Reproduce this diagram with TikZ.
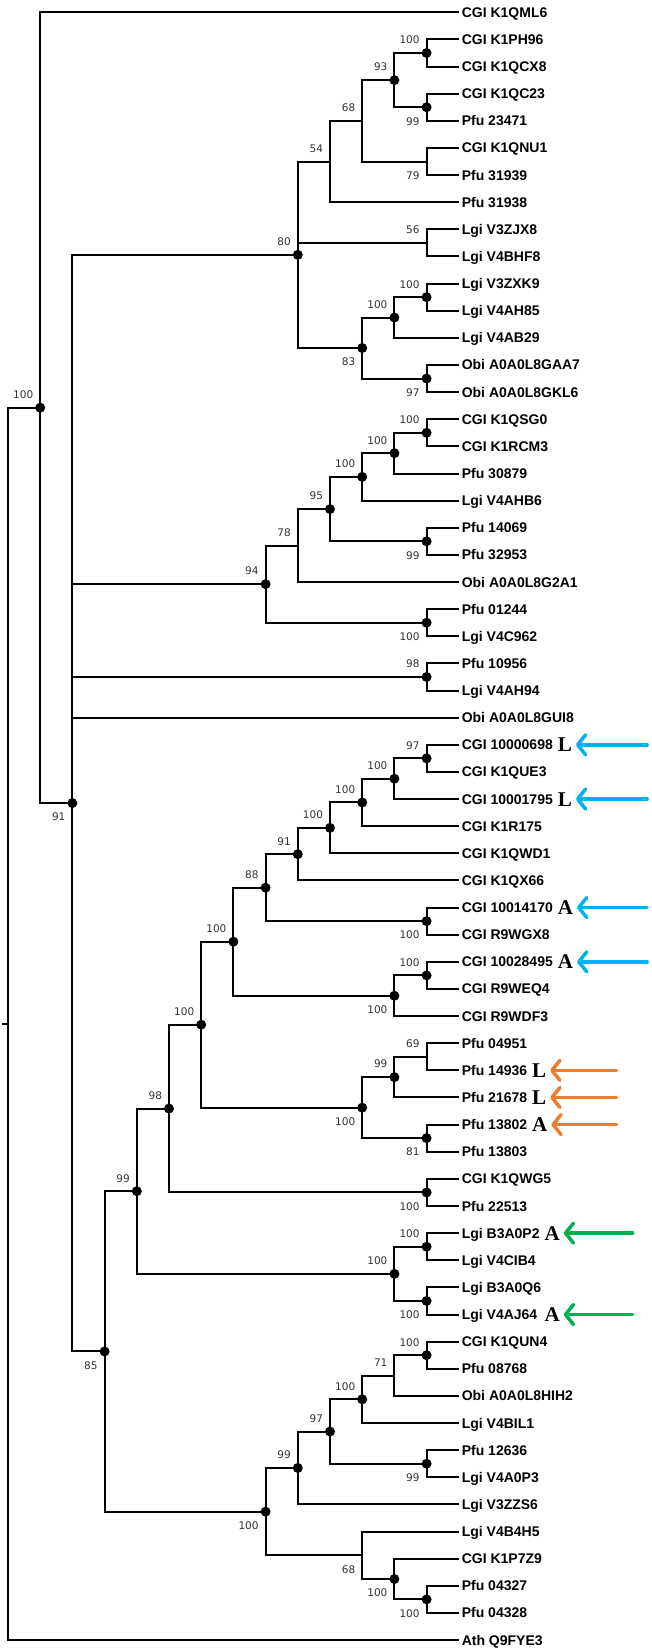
\documentclass[tikz,border=0pt]{standalone}
\usepackage{fontspec}
\setmainfont{Liberation Sans}
\newfontfamily\bootfont{DejaVu Sans}
\newfontfamily\motiffont{Liberation Serif}
\usetikzlibrary{positioning,arrows.meta}
\definecolor{arrblue}{HTML}{00B0F0}
\definecolor{arrorange}{HTML}{ED7D31}
\definecolor{arrgreen}{HTML}{00B050}

\begin{document}
\begin{tikzpicture}[x=32.2pt,y=-27.13pt,line width=2pt,
    taxon/.style={anchor=west,inner sep=2pt,font=\fontsize{14}{16}\selectfont\bfseries,text height=10pt,text depth=0pt},
    bootup/.style={anchor=south east,inner sep=0pt,xshift=-6pt,yshift=8pt,font=\bootfont\fontsize{10.5}{12}\selectfont,text=black!80},
    bootdown/.style={anchor=north east,inner sep=0pt,xshift=-6pt,yshift=-9pt,font=\bootfont\fontsize{10.5}{12}\selectfont,text=black!80},
    nodedot/.style={circle,fill,inner sep=0pt,minimum size=10pt},
    motif/.style={inner sep=1pt,font=\motiffont\fontsize{21}{22}\selectfont\bfseries,text height=14pt,text depth=0pt},
    tagarrow/.style={line width=3.5pt,line cap=round,shorten >=2pt,-{Straight Barb[length=8pt,width=20pt,round]}}]
\useasboundingbox (-0.2484,0.5466) rectangle (20.0,61.44);

\foreach \i/\name in {1/CGI K1QML6,2/CGI K1PH96,3/CGI K1QCX8,4/CGI K1QC23,5/Pfu 23471,
    6/CGI K1QNU1,7/Pfu 31939,8/Pfu 31938,9/Lgi V3ZJX8,10/Lgi V4BHF8,11/Lgi V3ZXK9,
    12/Lgi V4AH85,13/Lgi V4AB29,14/Obi A0A0L8GAA7,15/Obi A0A0L8GKL6,16/CGI K1QSG0,
    17/CGI K1RCM3,18/Pfu 30879,19/Lgi V4AHB6,20/Pfu 14069,21/Pfu 32953,22/Obi A0A0L8G2A1,
    23/Pfu 01244,24/Lgi V4C962,25/Pfu 10956,26/Lgi V4AH94,27/Obi A0A0L8GUI8,28/CGI 10000698,
    29/CGI K1QUE3,30/CGI 10001795,31/CGI K1R175,32/CGI K1QWD1,33/CGI K1QX66,34/CGI 10014170,
    35/CGI R9WGX8,36/CGI 10028495,37/CGI R9WEQ4,38/CGI R9WDF3,39/Pfu 04951,40/Pfu 14936,
    41/Pfu 21678,42/Pfu 13802,43/Pfu 13803,44/CGI K1QWG5,45/Pfu 22513,46/Lgi B3A0P2,
    47/Lgi V4CIB4,48/Lgi B3A0Q6,49/Lgi V4AJ64,50/CGI K1QUN4,51/Pfu 08768,52/Obi A0A0L8HIH2,
    53/Lgi V4BIL1,54/Pfu 12636,55/Lgi V4A0P3,56/Lgi V3ZZS6,57/Lgi V4B4H5,58/CGI K1P7Z9,
    59/Pfu 04327,60/Pfu 04328,61/Ath Q9FYE3}
  \node[taxon] (l\i) at (14,\i) {\name};

\foreach \n/\c/\y in {b100a/13/2.5,b99a/13/4.5,b93/12/3.5,b79/13/6.5,b68/11/5,b54/10/6.5,
    b56/13/9.5,b100b/13/11.5,b100c/12/12.25,b97a/13/14.5,b83/11/13.375,b80/9/9.9375,
    b100d/13/16.5,b100e/12/17.25,b100f/11/18.125,b99b/13/20.5,b95/10/19.3125,b78/9/20.65625,
    b100g/13/23.5,b94/8/22.078,b98a/13/25.5,
    b97b/13/28.5,b100i/12/29.25,b100j/11/30.125,b100k/10/31.0625,b91b/9/32.03125,b100l/13/34.5,
    b88/8/33.2656,b100m/13/36.5,b100n/12/37.25,b100o/7/35.2578,b69/13/39.5,b99d/12/40.25,
    b81/13/42.5,b100p/11/41.375,b100q/6/38.3164,b100r/13/44.5,b98b/5/41.4082,b100s/13/46.5,
    b100t/13/48.5,b100u/12/47.5,b99e/4/44.4541,
    b100v/13/50.5,b71/12/51.25,b100w/11/52.125,b99f/13/54.5,b97c/10/53.3125,b99g/9/54.6563,
    b100x/13/59.5,b100y/12/58.75,b68b/11/57.875,b100z/8/56.2656,b85/3/50.3598,
    b91a/2/30.149,b100root/1/15.574,root/0/38.287}
  \coordinate (\n) at (\c,\y);
\coordinate (stub) at (-0.19,38.287);

\foreach \p/\c in {b100a/l2,b100a/l3,b99a/l4,b99a/l5,b93/b100a,b93/b99a,b79/l6,b79/l7,
    b68/b93,b68/b79,b54/b68,b54/l8,b56/l9,b56/l10,b100b/l11,b100b/l12,b100c/b100b,b100c/l13,
    b97a/l14,b97a/l15,b83/b100c,b83/b97a,b80/b54,b80/b56,b80/b83,
    b100d/l16,b100d/l17,b100e/b100d,b100e/l18,b100f/b100e,b100f/l19,b99b/l20,b99b/l21,
    b95/b100f,b95/b99b,b78/b95,b78/l22,b100g/l23,b100g/l24,b94/b78,b94/b100g,b98a/l25,b98a/l26,
    b97b/l28,b97b/l29,b100i/b97b,b100i/l30,b100j/b100i,b100j/l31,b100k/b100j,b100k/l32,
    b91b/b100k,b91b/l33,b100l/l34,b100l/l35,b88/b91b,b88/b100l,b100m/l36,b100m/l37,
    b100n/b100m,b100n/l38,b100o/b88,b100o/b100n,b69/l39,b69/l40,b99d/b69,b99d/l41,
    b81/l42,b81/l43,b100p/b99d,b100p/b81,b100q/b100o,b100q/b100p,b100r/l44,b100r/l45,
    b98b/b100q,b98b/b100r,b100s/l46,b100s/l47,b100t/l48,b100t/l49,b100u/b100s,b100u/b100t,
    b99e/b98b,b99e/b100u,
    b100v/l50,b100v/l51,b71/b100v,b71/l52,b100w/b71,b100w/l53,b99f/l54,b99f/l55,
    b97c/b100w,b97c/b99f,b99g/b97c,b99g/l56,b100x/l59,b100x/l60,b100y/l58,b100y/b100x,
    b68b/l57,b68b/b100y,b100z/b99g,b100z/b68b,b85/b99e,b85/b100z,
    b91a/b80,b91a/b94,b91a/b98a,b91a/l27,b91a/b85,b100root/l1,b100root/b91a,
    root/b100root,root/l61}
  \draw (\p) |- (\c);
\draw (stub) -- (root);

\foreach \n in {b100a,b99a,b93,b100b,b100c,b97a,b83,b80,b100d,b100e,b100f,b99b,b95,
    b100g,b94,b98a,b97b,b100i,b100j,b100k,b91b,b100l,b88,b100m,b100n,b100o,b99d,b81,
    b100p,b100q,b100r,b98b,b100s,b100t,b100u,b99e,b100v,b100w,b99f,b97c,b99g,b100x,
    b100y,b100z,b85,b91a,b100root}
  \node[nodedot] at (\n) {};

\foreach \n/\v in {b100a/100,b93/93,b68/68,b54/54,b56/56,b100b/100,b100c/100,b80/80,
    b100d/100,b100e/100,b100f/100,b95/95,b78/78,b94/94,b98a/98,b97b/97,b100i/100,b100j/100,
    b100k/100,b91b/91,b88/88,b100m/100,b100o/100,b69/69,b99d/99,b100q/100,b98b/98,
    b100s/100,b100u/100,b99e/99,b100v/100,b71/71,b100w/100,b97c/97,b99g/99,b100root/100}
  \node[bootup] at (\n) {\v};
\foreach \n/\v in {b99a/99,b79/79,b97a/97,b83/83,b99b/99,b100g/100,b100l/100,b100n/100,
    b81/81,b100p/100,b100r/100,b100t/100,b99f/99,b100x/100,b100y/100,b68b/68,b100z/100,
    b85/85,b91a/91}
  \node[bootdown] at (\n) {\v};

\node[motif,right=0pt of l28] (m28) {L};
\node[motif,right=0pt of l30] (m30) {L};
\node[motif,right=0pt of l34] (m34) {A};
\node[motif,right=0pt of l36] (m36) {A};
\node[motif,right=0pt of l40] (m40) {L};
\node[motif,right=0pt of l41] (m41) {L};
\node[motif,right=0pt of l42] (m42) {A};
\node[motif,right=0pt of l46] (m46) {A};
\node[motif] (m49) at (m46 |- l49) {A};

\foreach \i/\x/\c in {28/19.85/arrblue,30/19.85/arrblue,34/19.85/arrblue,36/19.85/arrblue,
    40/18.9/arrorange,41/18.9/arrorange,42/18.9/arrorange,46/19.4/arrgreen,49/19.4/arrgreen}
  {\coordinate (t\i) at (\x,\i);
   \draw[tagarrow,\c] (t\i) -- (m\i);}
\end{tikzpicture}
\end{document}
